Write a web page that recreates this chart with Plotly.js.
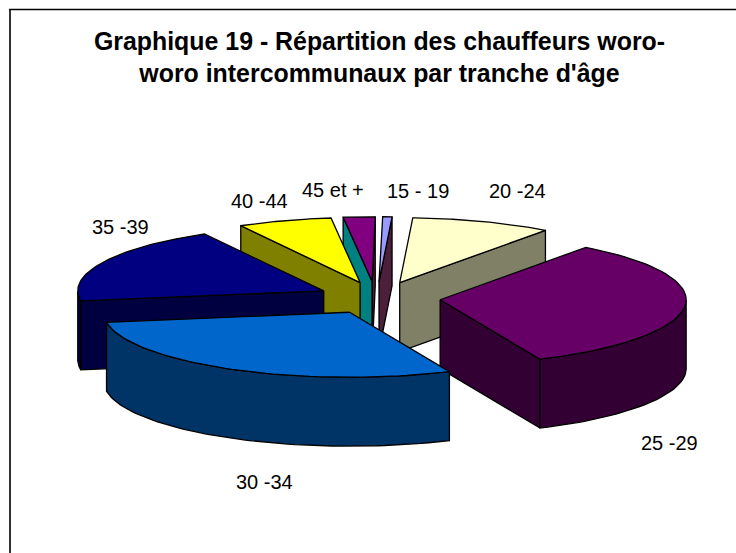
<!DOCTYPE html>
<html><head><meta charset="utf-8">
<script src="https://cdn.plot.ly/plotly-3.0.1.min.js"></script>
<style>html,body{margin:0;padding:0;background:#fff}#c{width:736px;height:553px}</style>
</head><body><div id="c"></div>
<script>
// Data (percent of drivers per age band)
var categories = ['15 - 19','20 -24','25 -29','30 -34','35 -39','40 -44','45 et +'];
var shares = [0.65, 9.24, 33.24, 29.16, 19.4, 6.17, 2.08];
var topColors = ['#9999FF','#FFFFCC','#660066','#0066CC','#000080','#FFFF00','#800080'];
var wallColors = ['#4C1F3A','#808066','#330033','#003366','#000040','#808000','#008080'];
var endWallColors = ['#4C1F3A','#808066','#330033','#003366','#000040','#808000','#4C1F3A'];
var nudgePx = [-2,0,0,0,0,0,-3.5];
var drawOrder = [6,5,0,1,4,2,3];
var labelX = [418,517,669,264,120,259,332.5];
var labelY = [191,191,443,482,227,201,190];

var W=736,H=553, cx=379, cy=298, rx=246, ry=65, depth=1.06, explode=0.25, startDeg=0.7;
var total = shares.reduce(function(a,b){return a+b;},0);
var rad = Math.PI/180;
function pt(t,k){return [k*Math.sin(t), k*Math.cos(t)];}
function poly(xs,ys,fill){return {type:'scatter',mode:'lines',x:xs,y:ys,fill:'toself',fillcolor:fill,
  line:{color:'#000',width:1.3},hoverinfo:'skip',showlegend:false};}
var a=startDeg*rad, slices=[];
shares.forEach(function(v,i){var b=a+v/total*2*Math.PI; slices.push({i:i,a:a,b:b}); a=b;});
var traces=[];
drawOrder.forEach(function(idx){
  var s=slices[idx], m=(s.a+s.b)/2, i=s.i, ox=explode*Math.sin(m)+nudgePx[i]/rx, oy=explode*Math.cos(m);
  var n=60, arc=[], j;
  for(j=0;j<=n;j++){arc.push(s.a+(s.b-s.a)*j/n);}
  function face(t,col){var p=pt(t,1);
    traces.push(poly([ox,ox+p[0],ox+p[0],ox,ox],[oy,oy+p[1],oy+p[1]-depth,oy-depth,oy],col));}
  if(Math.sin(s.a)<-1e-6) face(s.a,wallColors[i]);
  if(Math.sin(s.b)>1e-6) face(s.b,endWallColors[i]);
  // outer wall on the front half of the rim
  var front=arc.filter(function(t){return Math.cos(t)<0;});
  if(front.length>1){
    var xs=[],ys=[];
    front.forEach(function(t){xs.push(ox+Math.sin(t));ys.push(oy+Math.cos(t));});
    front.slice().reverse().forEach(function(t){xs.push(ox+Math.sin(t));ys.push(oy+Math.cos(t)-depth);});
    xs.push(xs[0]);ys.push(ys[0]);
    traces.push(poly(xs,ys,wallColors[i]));
  }
  // top surface
  var tx=[ox],ty=[oy];
  arc.forEach(function(t){tx.push(ox+Math.sin(t));ty.push(oy+Math.cos(t));});
  tx.push(ox);ty.push(oy);
  traces.push(poly(tx,ty,topColors[i]));
});
var fontFam='Liberation Sans, Arial, sans-serif';
var anns=categories.map(function(c,i){return {text:c,xref:'paper',yref:'paper',x:labelX[i]/W,y:1-labelY[i]/H,
  xanchor:'center',yanchor:'middle',showarrow:false,font:{family:fontFam,size:20,color:'#000'}};});
var layout={width:W,height:H,margin:{l:0,r:0,t:0,b:0},paper_bgcolor:'#fff',plot_bgcolor:'rgba(0,0,0,0)',showlegend:false,
  title:{text:"<b>Graphique 19 - Répartition des chauffeurs woro-<br>woro intercommunaux par tranche d'âge</b>",
    x:379.5/W,xanchor:'center',y:1-50/H,yanchor:'middle',font:{family:fontFam,size:24.9,color:'#000'}},
  xaxis:{visible:false,range:[-cx/rx,(W-cx)/rx],fixedrange:true},
  yaxis:{visible:false,range:[-(H-cy)/ry,cy/ry],fixedrange:true},
  annotations:anns,
  shapes:[
   {type:'line',xref:'paper',yref:'paper',x0:10/W,x1:10/W,y0:0,y1:1-9/H,line:{color:'#333',width:2}},
   {type:'line',xref:'paper',yref:'paper',x0:9/W,x1:1,y0:1-9.5/H,y1:1-9.5/H,line:{color:'#000',width:1.3}}
  ]};
Plotly.newPlot('c',traces,layout,{displayModeBar:false,staticPlot:true});
</script></body></html>
